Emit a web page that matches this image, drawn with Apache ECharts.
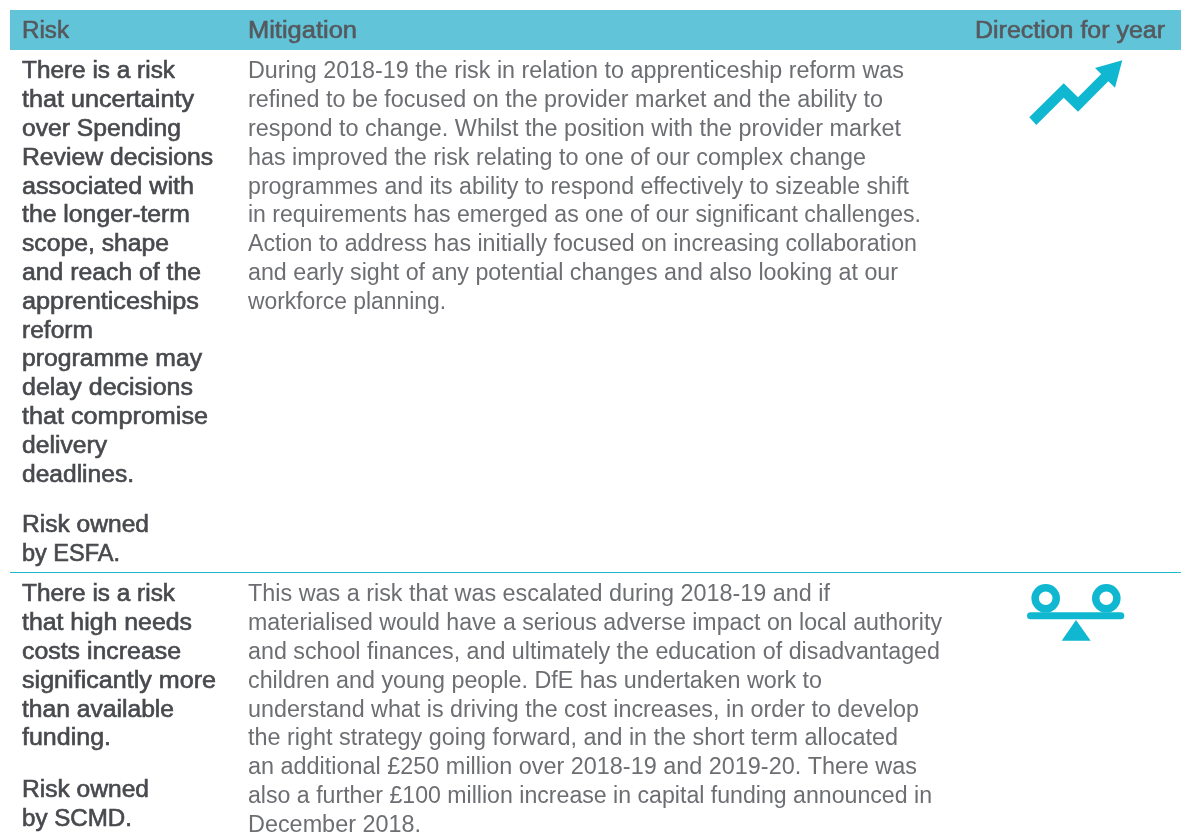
<!DOCTYPE html>
<html>
<head>
<meta charset="utf-8">
<style>
  html, body { margin: 0; padding: 0; background: #fff; }
  #main { width: 1181px; height: 836px; }
</style>
<script src="https://cdn.jsdelivr.net/npm/echarts@6/dist/echarts.min.js"></script>
</head>
<body>
<div id="main"></div>
<script>
var headers = ['Risk', 'Mitigation', 'Direction for year'];
var risk1 = ['There is a risk', 'that uncertainty', 'over Spending', 'Review decisions', 'associated with',
  'the longer-term', 'scope, shape', 'and reach of the', 'apprenticeships', 'reform',
  'programme may', 'delay decisions', 'that compromise', 'delivery', 'deadlines.'];
var owner1 = ['Risk owned', 'by ESFA.'];
var mitigation1 = ['During 2018-19 the risk in relation to apprenticeship reform was',
  'refined to be focused on the provider market and the ability to',
  'respond to change. Whilst the position with the provider market',
  'has improved the risk relating to one of our complex change',
  'programmes and its ability to respond effectively to sizeable shift',
  'in requirements has emerged as one of our significant challenges.',
  'Action to address has initially focused on increasing collaboration',
  'and early sight of any potential changes and also looking at our',
  'workforce planning.'];
var risk2 = ['There is a risk', 'that high needs', 'costs increase', 'significantly more', 'than available', 'funding.'];
var owner2 = ['Risk owned', 'by SCMD.'];
var mitigation2 = ['This was a risk that was escalated during 2018-19 and if',
  'materialised would have a serious adverse impact on local authority',
  'and school finances, and ultimately the education of disadvantaged',
  'children and young people. DfE has undertaken work to',
  'understand what is driving the cost increases, in order to develop',
  'the right strategy going forward, and in the short term allocated',
  'an additional £250 million over 2018-19 and 2019-20. There was',
  'also a further £100 million increase in capital funding announced in',
  'December 2018.'];

// right edge of each line in the reference, the fonts differ a bit so lines get squeezed to fit
var headerEnds = [69, 357, 1165];
var risk1Ends = [175, 194, 181, 213, 194, 190, 169, 201, 199, 93, 202, 193, 208, 107, 134];
var owner1Ends = [149, 120];
var mit1Ends = [904, 883, 901, 866, 909, 921, 917, 898, 446];
var risk2Ends = [175, 192, 181, 216, 174, 111];
var owner2Ends = [149, 132];
var mit2Ends = [830, 942, 940, 822, 919, 898, 917, 932, 421];

var FONT = '"Liberation Sans", Arial, sans-serif';
var LINE = 28.8;
var ICON = '#0fb8d0';
var DARK = '#47494d';
var LIGHT = '#6c6e72';

var measure = document.createElement('canvas').getContext('2d');

function textLine(t, x, y, end, size, color, stroke) {
  var font = 'normal ' + size + 'px ' + FONT;
  measure.font = font;
  var s = (end - x) / measure.measureText(t).width;
  return {
    type: 'text', x: x, y: y + 2, scaleX: s,
    style: {
      text: t, x: 0, y: 0, font: font, fill: color,
      stroke: stroke ? color : null, lineWidth: stroke || 0,
      textVerticalAlign: 'middle', textAlign: 'left'
    }
  };
}

function textLines(lines, ends, x, y, color, stroke) {
  return lines.map(function (t, i) {
    return textLine(t, x, y + i * LINE, ends[i], 23, color, stroke);
  });
}

var els = [];
// header band
els.push({ type: 'rect', shape: { x: 10, y: 10, width: 1171, height: 40 }, style: { fill: '#62c4d9' } });
[22, 248, 975].forEach(function (x, i) {
  els.push(textLine(headers[i], x, 30, headerEnds[i], 23.5, '#55595e', 0.6));
});
// divider between the rows
els.push({ type: 'rect', shape: { x: 10, y: 572, width: 1171, height: 1 }, style: { fill: '#1fb9d0' } });

els = els.concat(
  textLines(risk1, risk1Ends, 22, 70, DARK, 0.6),
  textLines(owner1, owner1Ends, 22, 524, DARK, 0.6),
  textLines(mitigation1, mit1Ends, 248, 70, LIGHT),
  textLines(risk2, risk2Ends, 22, 593, DARK, 0.6),
  textLines(owner2, owner2Ends, 22, 789, DARK, 0.6),
  textLines(mitigation2, mit2Ends, 248, 593, LIGHT)
);

// rising arrow icon
els.push({ type: 'polygon', shape: { points: [[1029.3, 117.3], [1063.7, 83.3], [1078, 97.3], [1101.2, 74.1], [1095, 68],
  [1122.3, 60.3], [1115, 87.7], [1108.3, 81.3], [1078, 111.7], [1063.7, 97.7], [1036.3, 125]] }, style: { fill: ICON } });
// balance icon
els.push({ type: 'ring', shape: { cx: 1045.7, cy: 598.3, r: 14.3, r0: 6.8 }, style: { fill: ICON } });
els.push({ type: 'ring', shape: { cx: 1106.3, cy: 598.3, r: 14.3, r0: 6.8 }, style: { fill: ICON } });
els.push({ type: 'rect', shape: { x: 1027, y: 612.3, width: 97.3, height: 7, r: 3.5 }, style: { fill: ICON } });
els.push({ type: 'polygon', shape: { points: [[1076, 620], [1061.7, 640.7], [1090.7, 640.7]] }, style: { fill: ICON } });

var chart = echarts.init(document.getElementById('main'));
chart.setOption({
  animation: false,
  graphic: { elements: els }
});
</script>
</body>
</html>
